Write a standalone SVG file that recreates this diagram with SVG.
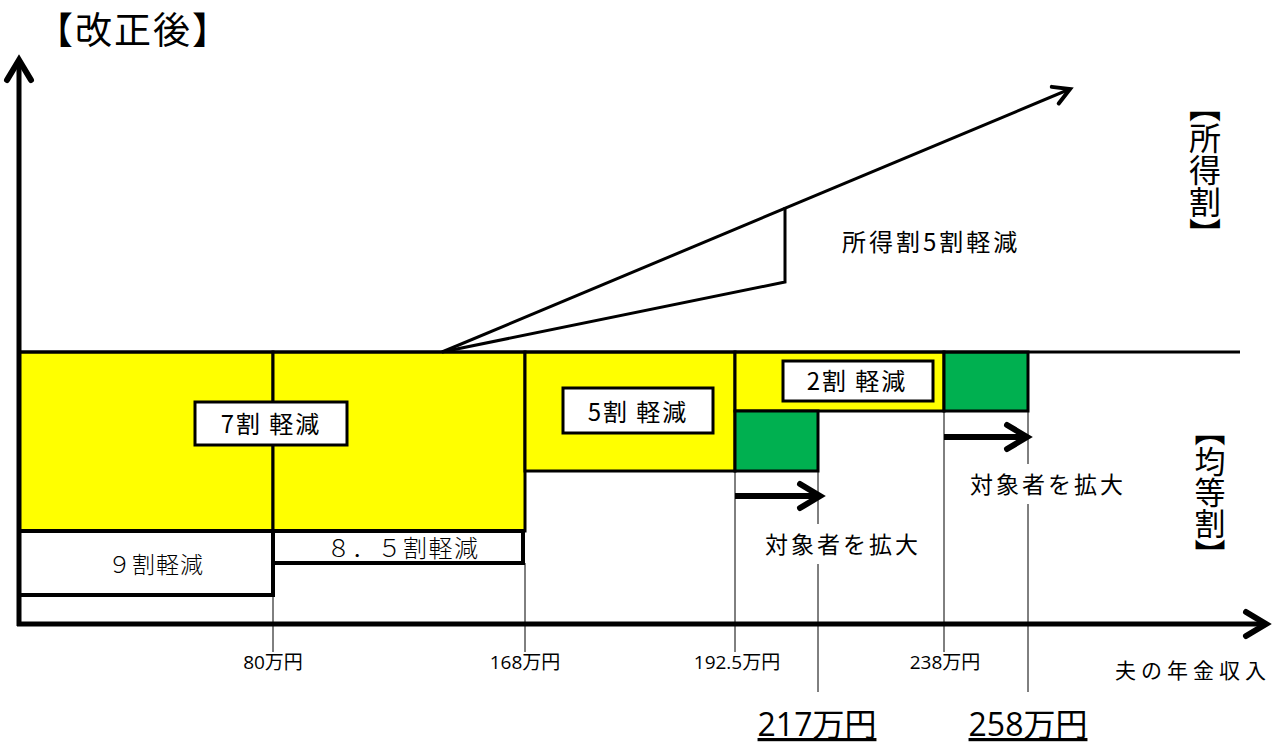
<svg xmlns="http://www.w3.org/2000/svg" width="1284" height="744" viewBox="0 0 1284 744">
<style>
.jp{font-family:"Noto Sans CJK JP","Noto Sans",sans-serif;fill:#000}
.num{font-family:"Open Sans","Noto Sans CJK JP",sans-serif;fill:#000}
.box{font-size:24px;letter-spacing:2px}
.yel{fill:#ffff00;stroke:#000;stroke-width:3}
.grn{fill:#00b050;stroke:#000;stroke-width:3}
.lbl{fill:#fff;stroke:#000;stroke-width:3}
.thin{stroke:#000;stroke-width:1;fill:none}
.axis{stroke:#000;stroke-width:5;fill:none}
</style>
<defs>
<marker id="chev" markerUnits="userSpaceOnUse" orient="auto" markerWidth="40" markerHeight="40" refX="0" refY="0" viewBox="-30 -20 40 40" overflow="visible">
<path d="M-20,-12 L0,0 L-20,12" fill="none" stroke="#000" stroke-width="6" stroke-linecap="round" stroke-linejoin="miter"/>
</marker>
<marker id="chevs" markerUnits="userSpaceOnUse" orient="auto" markerWidth="40" markerHeight="40" refX="0" refY="0" viewBox="-30 -20 40 40" overflow="visible">
<path d="M-16,-9 L0,0 L-16,9" fill="none" stroke="#000" stroke-width="4" stroke-linecap="round"/>
</marker>
</defs>
<rect width="1284" height="744" fill="#fff"/>

<text x="36" y="44" class="jp" font-size="37" letter-spacing="2">【改正後】</text>

<g id="guides">
<line class="thin" x1="273" y1="595" x2="273" y2="652"/>
<line class="thin" x1="525" y1="563" x2="525" y2="652"/>
<line class="thin" x1="735" y1="471" x2="735" y2="652"/>
<line class="thin" x1="818" y1="471" x2="818" y2="692"/>
<line class="thin" x1="944" y1="411" x2="944" y2="652"/>
<line class="thin" x1="1028" y1="411" x2="1028" y2="692"/>
</g>

<g id="n7">
<rect class="yel" x="19" y="352" width="254" height="179"/>
<rect class="yel" x="273" y="352" width="252" height="179"/>
<rect class="lbl" x="195" y="402" width="152" height="43"/>
<text x="271" y="433" class="jp box" text-anchor="middle">7割 軽減</text>
</g>
<g id="n9">
<rect x="19" y="531" width="254" height="64" fill="#fff" stroke="#000" stroke-width="4"/>
<text x="156" y="573" class="jp" font-size="23" letter-spacing="1" font-weight="300" text-anchor="middle">９割軽減</text>
</g>
<g id="n85">
<rect x="273" y="531" width="250" height="32" fill="#fff" stroke="#000" stroke-width="4"/>
<text x="403" y="557" class="jp" font-size="24" letter-spacing="1.5" font-weight="300" text-anchor="middle">８．５割軽減</text>
</g>
<g id="n5">
<rect class="yel" x="525" y="352" width="210" height="119"/>
<rect class="lbl" x="563" y="388" width="150" height="45"/>
<text x="638" y="421" class="jp box" text-anchor="middle">5割 軽減</text>
</g>
<g id="n2">
<rect class="yel" x="735" y="352" width="209" height="59"/>
<rect class="lbl" x="783" y="361" width="150" height="40"/>
<text x="857" y="390" class="jp box" text-anchor="middle">2割 軽減</text>
</g>
<g id="g1"><rect class="grn" x="735" y="411" width="83" height="60"/></g>
<g id="g2"><rect class="grn" x="944" y="352" width="84" height="59"/></g>

<g id="connectors">
<line x1="19" y1="352" x2="1240" y2="352" stroke="#000" stroke-width="3"/>
<line class="axis" x1="19" y1="626" x2="19" y2="60" marker-end="url(#chev)"/>
<line class="axis" x1="17" y1="624" x2="1266" y2="624" marker-end="url(#chev)"/>
<line x1="735" y1="496" x2="820" y2="496" stroke="#000" stroke-width="6" marker-end="url(#chev)"/>
<line x1="944" y1="437" x2="1027" y2="437" stroke="#000" stroke-width="6" marker-end="url(#chev)"/>
<line x1="442" y1="352" x2="1070" y2="89" stroke="#000" stroke-width="3" marker-end="url(#chevs)"/>
<polyline points="442,352 785,282 785,207" fill="none" stroke="#000" stroke-width="3"/>
</g>

<g id="labels">
<text x="842" y="251" class="jp" font-size="24" letter-spacing="3">所得割5割軽減</text>
<text x="1205" y="90" class="jp" font-size="32" writing-mode="tb">【所得割】</text>
<text x="1210" y="415" class="jp" font-size="31" writing-mode="tb">【均等割】</text>
<rect x="760" y="524" width="165" height="40" fill="#fff"/>
<text x="843" y="553" class="jp" font-size="23" letter-spacing="3" text-anchor="middle">対象者を拡大</text>
<rect x="965" y="464" width="165" height="40" fill="#fff"/>
<text x="1048" y="493" class="jp" font-size="23" letter-spacing="3" text-anchor="middle">対象者を拡大</text>
<text x="273" y="669" class="num" font-size="19" text-anchor="middle">80万円</text>
<text x="525" y="669" class="num" font-size="19" text-anchor="middle">168万円</text>
<text x="737" y="669" class="num" font-size="19" text-anchor="middle">192.5万円</text>
<text x="945" y="669" class="num" font-size="19" text-anchor="middle">238万円</text>
<text x="1115" y="678" class="jp" font-size="21" letter-spacing="5">夫の年金収入</text>
<text x="817" y="736" class="num" font-size="32" text-anchor="middle" text-decoration="underline">217万円</text>
<text x="1028" y="736" class="num" font-size="32" text-anchor="middle" text-decoration="underline">258万円</text>
</g>
</svg>
